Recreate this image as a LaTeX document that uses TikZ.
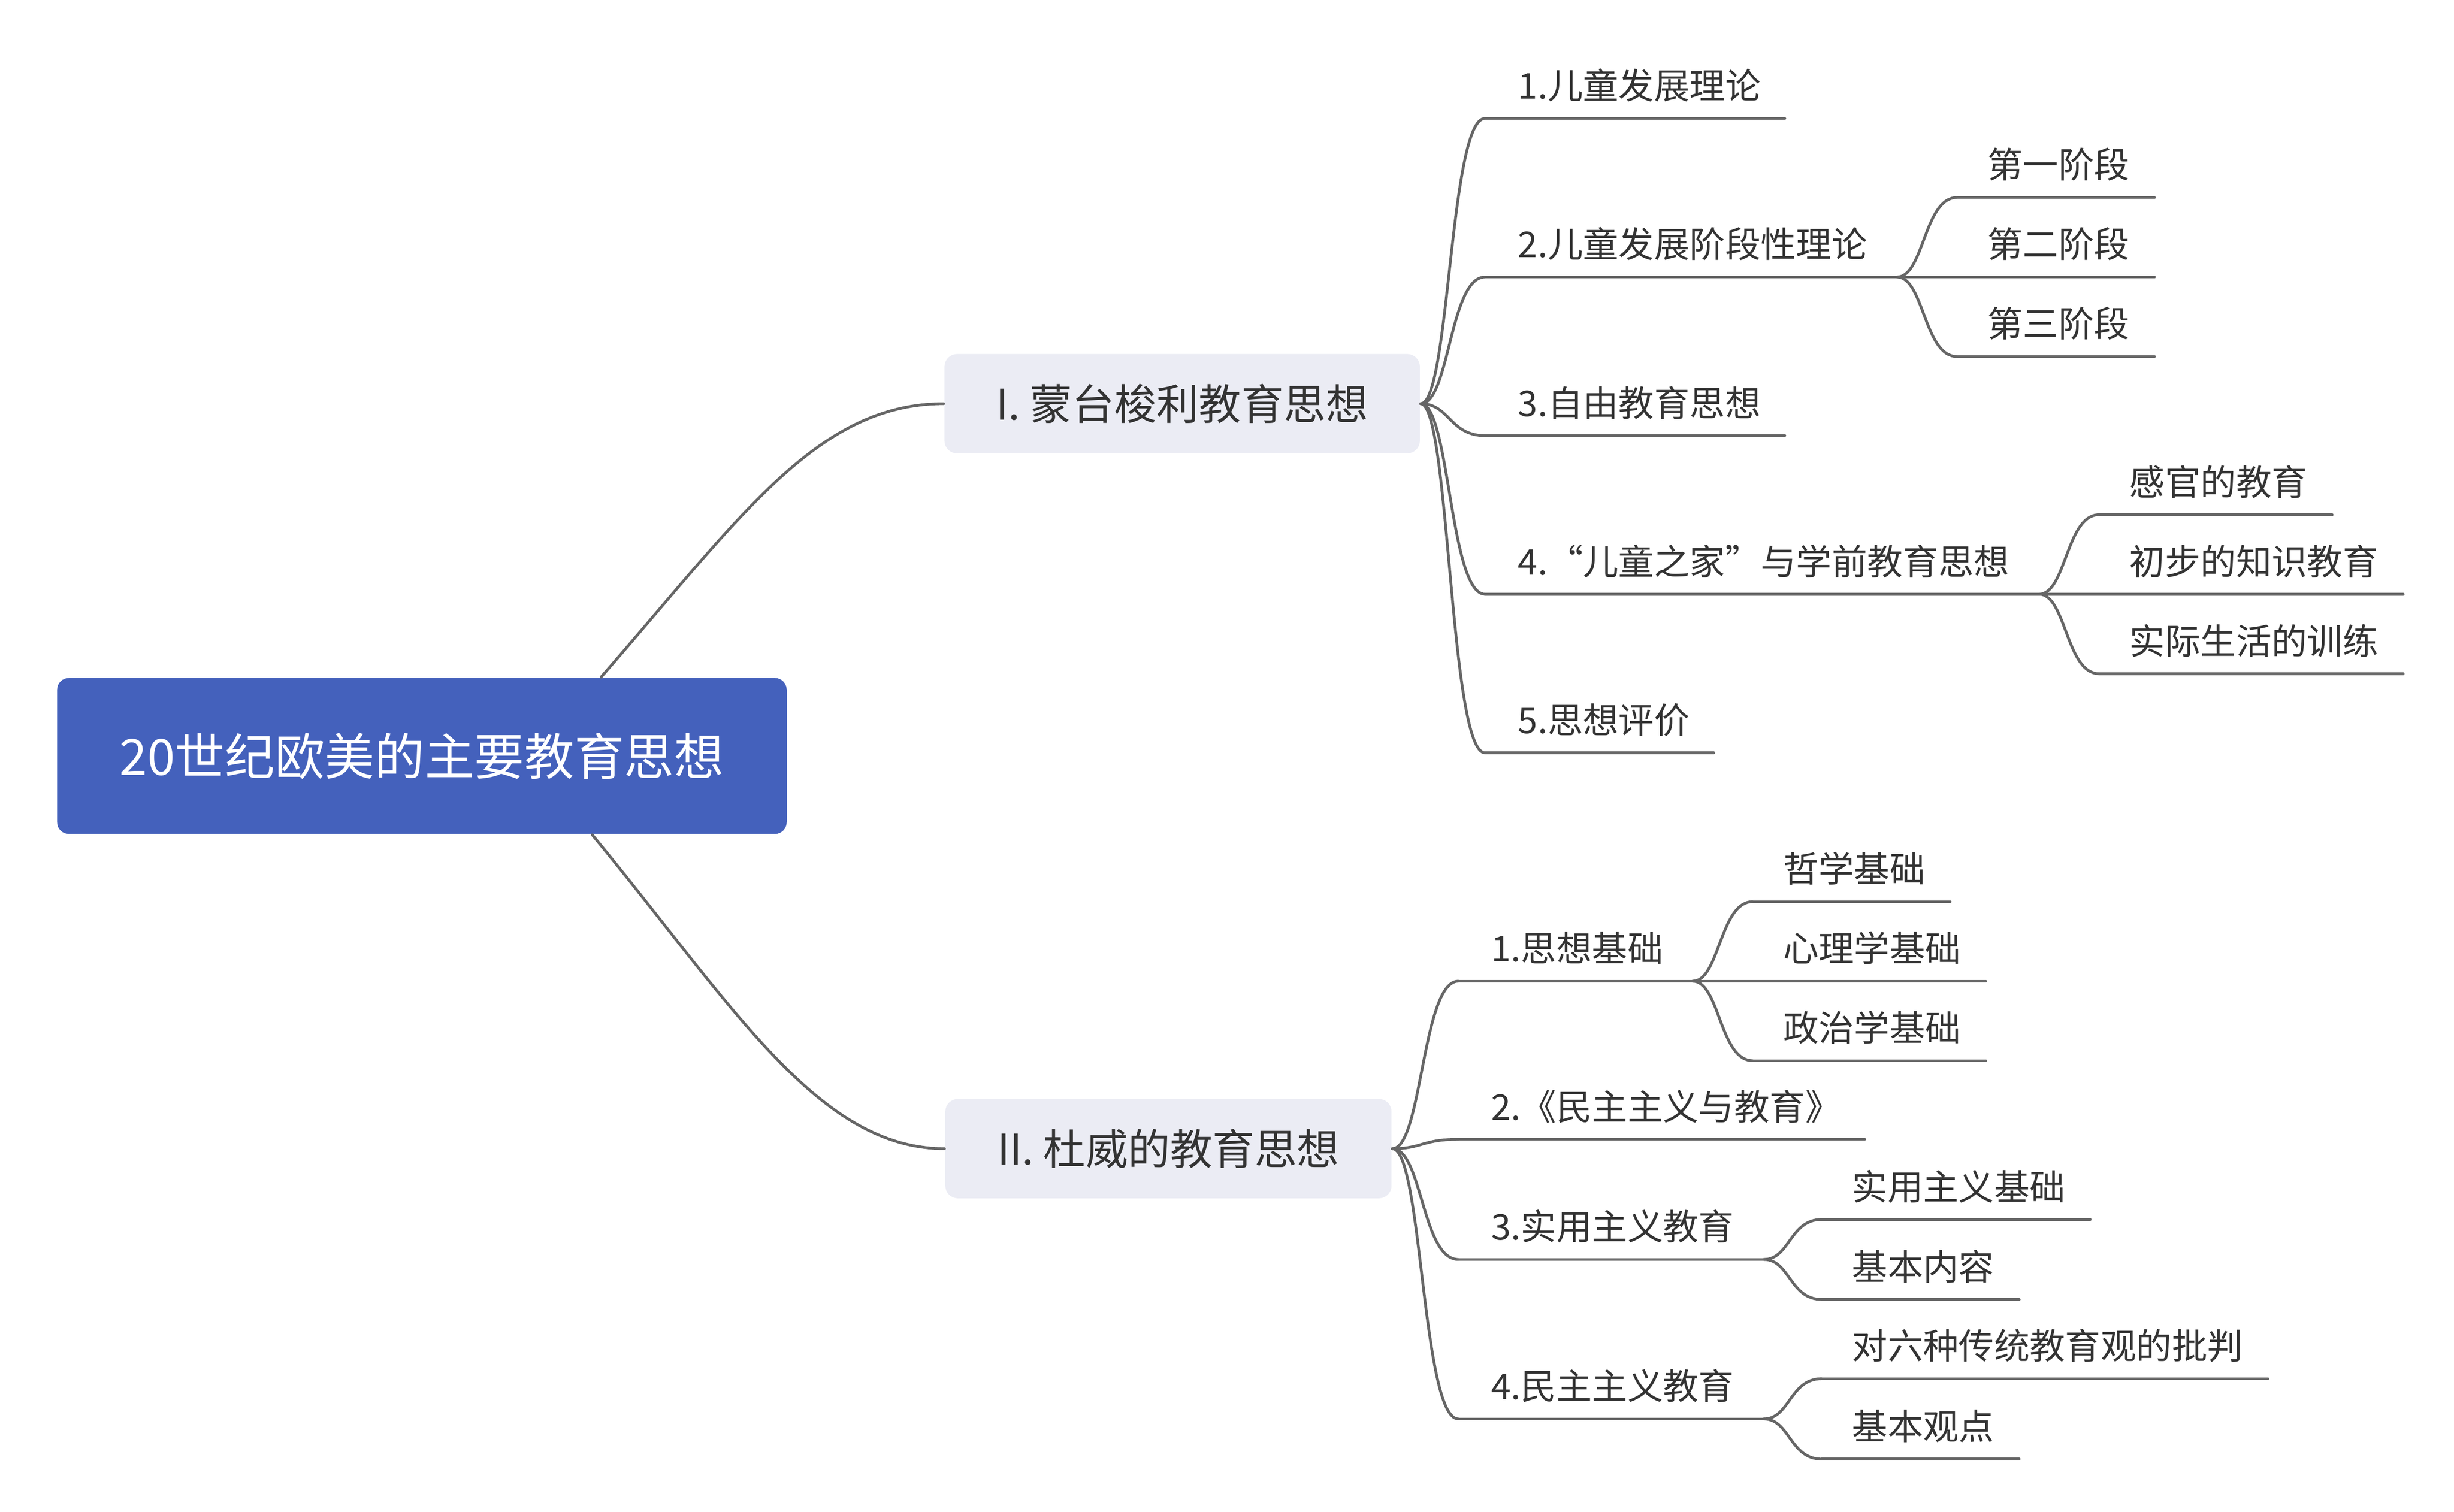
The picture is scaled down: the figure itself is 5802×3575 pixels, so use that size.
\documentclass[tikz,border=0pt]{standalone}
\usepackage{fontspec}
\setmainfont{Noto Sans CJK SC}
\usetikzlibrary{calc}
\definecolor{rootblue}{HTML}{4461BC}
\definecolor{boxgray}{HTML}{EBECF4}
\definecolor{linegray}{HTML}{666666}
\definecolor{txt}{HTML}{333333}
\tikzset{
  mmline/.style={draw=linegray, line width=0.65pt, line cap=round},
  rootbox/.style={fill=rootblue, text=white, rounded corners=2.8pt, minimum width=172.5pt, minimum height=36.9pt, inner sep=0pt, font=\fontsize{11.8}{14}\selectfont},
  mainbox/.style={fill=boxgray, text=txt, rounded corners=3pt, minimum height=23.5pt, inner sep=0pt, font=\fontsize{10}{12}\selectfont},
  leaf/.style={anchor=base west, inner sep=0pt, text=txt, font=\fontsize{8.4}{10}\selectfont},
}
\newcommand\mmconn[2]{%
  \coordinate (mmtmp) at ($(#1)!0.45!(#2)$);
  \draw[mmline] (#1) .. controls (mmtmp |- #1) and (mmtmp |- #2) .. (#2);}
\newcommand\mmleaf[3]{% coordinate name, node name, text
  \node[leaf] (#2) at ($(#1)+(76,-46)$) {#3};
  \draw[mmline] (#1) -- ($(#1 -| #2.east)+(55,0)$);}
\newcommand\mmsub[3]{%
  \node[leaf] (#2) at ($(#1)+(70,-46)$) {#3};
  \draw[mmline] (#1) -- ($(#1 -| #2.east)+(57,0)$);}
\begin{document}
\begin{tikzpicture}[x=0.1pt,y=-0.1pt]
\useasboundingbox (0,0) rectangle (5802,3575);

% main nodes
\node[rootbox] (root) at (997.5,1787.5) {20世纪欧美的主要教育思想};
\node[mainbox, minimum width=112.4pt] (B1) at (2795,954.5) {I. 蒙台梭利教育思想};
\node[mainbox, minimum width=105.5pt] (B2) at (2762.5,2716) {II. 杜威的教育思想};

\coordinate (r1) at ($(root.north west)!0.745!(root.north east)$);
\coordinate (r2) at ($(root.south west)!0.733!(root.south east)$);
\draw[mmline] (r1) .. controls ($(r1)+(328,-376)$) and ($(B1.west)+(-300,0)$) .. (B1.west);
\draw[mmline] (r2) .. controls ($(r2)+(330,400)$) and ($(B2.west)+(-300,0)$) .. (B2.west);

% ---------- branch I ----------
\coordinate (s11) at (3511,280);
\coordinate (s12) at (3511,655);
\coordinate (s13) at (3511,1030);
\coordinate (s14) at (3511,1405);
\coordinate (s15) at (3511,1780);
\mmconn{B1.east}{s11}
\mmconn{B1.east}{s12}
\mmconn{B1.east}{s13}
\mmconn{B1.east}{s14}
\mmconn{B1.east}{s15}
\mmleaf{s11}{n11}{1.儿童发展理论}
\mmleaf{s13}{n13}{3.自由教育思想}
\mmleaf{s15}{n15}{5.思想评价}

\node[leaf] (n12) at ($(s12)+(76,-46)$) {2.儿童发展阶段性理论};
\coordinate (b12) at ($(s12 -| n12.east)+(68,0)$);
\draw[mmline] (s12) -- (b12);
\coordinate (s121) at ($(b12)+(142,-188)$);
\coordinate (s122) at ($(b12)+(142,0)$);
\coordinate (s123) at ($(b12)+(142,188)$);
\mmconn{b12}{s121}
\mmconn{b12}{s122}
\mmconn{b12}{s123}
\mmsub{s121}{n121}{第一阶段}
\mmsub{s122}{n122}{第二阶段}
\mmsub{s123}{n123}{第三阶段}

\node[leaf] (n14) at ($(s14)+(76,-46)$) {4.“儿童之家”与学前教育思想};
\coordinate (b14) at ($(s14 -| n14.east)+(68,0)$);
\draw[mmline] (s14) -- (b14);
\coordinate (s141) at ($(b14)+(142,-188)$);
\coordinate (s142) at ($(b14)+(142,0)$);
\coordinate (s143) at ($(b14)+(142,188)$);
\mmconn{b14}{s141}
\mmconn{b14}{s142}
\mmconn{b14}{s143}
\mmsub{s141}{n141}{感官的教育}
\mmsub{s142}{n142}{初步的知识教育}
\mmsub{s143}{n143}{实际生活的训练}

% ---------- branch II ----------
\coordinate (s21) at (3448,2320);
\coordinate (s22) at (3448,2694);
\coordinate (s23) at (3448,2978);
\coordinate (s24) at (3448,3355);
\mmconn{B2.east}{s21}
\mmconn{B2.east}{s22}
\mmconn{B2.east}{s23}
\mmconn{B2.east}{s24}
\mmleaf{s22}{n22}{2.《民主主义与教育》}

\node[leaf] (n21) at ($(s21)+(76,-46)$) {1.思想基础};
\coordinate (b21) at ($(s21 -| n21.east)+(68,0)$);
\draw[mmline] (s21) -- (b21);
\coordinate (s211) at ($(b21)+(142,-188)$);
\coordinate (s212) at ($(b21)+(142,0)$);
\coordinate (s213) at ($(b21)+(142,188)$);
\mmconn{b21}{s211}
\mmconn{b21}{s212}
\mmconn{b21}{s213}
\mmsub{s211}{n211}{哲学基础}
\mmsub{s212}{n212}{心理学基础}
\mmsub{s213}{n213}{政治学基础}

\node[leaf] (n23) at ($(s23)+(76,-46)$) {3.实用主义教育};
\coordinate (b23) at ($(s23 -| n23.east)+(68,0)$);
\draw[mmline] (s23) -- (b23);
\coordinate (s231) at ($(b23)+(137,-94.5)$);
\coordinate (s232) at ($(b23)+(137,94.5)$);
\mmconn{b23}{s231}
\mmconn{b23}{s232}
\mmsub{s231}{n231}{实用主义基础}
\mmsub{s232}{n232}{基本内容}

\node[leaf] (n24) at ($(s24)+(76,-46)$) {4.民主主义教育};
\coordinate (b24) at ($(s24 -| n24.east)+(68,0)$);
\draw[mmline] (s24) -- (b24);
\coordinate (s241) at ($(b24)+(137,-95)$);
\coordinate (s242) at ($(b24)+(137,95)$);
\mmconn{b24}{s241}
\mmconn{b24}{s242}
\mmsub{s241}{n241}{对六种传统教育观的批判}
\mmsub{s242}{n242}{基本观点}
\end{tikzpicture}
\end{document}
